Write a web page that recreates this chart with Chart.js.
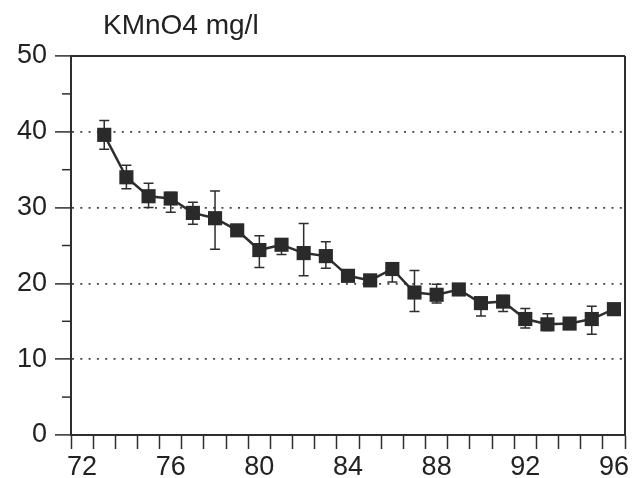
<!DOCTYPE html>
<html><head><meta charset="utf-8">
<script src="https://cdn.jsdelivr.net/npm/chart.js@4.4.1/dist/chart.umd.min.js"></script>
<style>html,body{margin:0;padding:0;background:#fff;} canvas{display:block;}</style>
</head><body>
<canvas id="c" width="635" height="478"></canvas>
<script>
const chartTitle = 'KMnO4 mg/l';
const axisYears = ['72','73','74','75','76','77','78','79','80','81','82','83','84','85','86','87','88','89','90','91','92','93','94','95','96'];
const xTickLabels = ['72','76','80','84','88','92','96'];
const yTickLabels = [0,10,20,30,40,50];
const years = ['73','74','75','76','77','78','79','80','81','82','83','84','85','86','87','88','89','90','91','92','93','94','95','96'];
const values = [39.6,34.0,31.5,31.2,29.3,28.6,27.0,24.4,25.1,24.0,23.6,21.0,20.4,21.9,18.8,18.5,19.2,17.4,17.6,15.3,14.6,14.7,15.3,16.6];
const errUp =   [1.9,1.6,1.7,0.8,1.4,3.6,0.5,1.9,0.6,3.9,1.9,0.5,0.5,0.6,2.9,1.4,0.5,0.6,0.8,1.4,1.4,0.5,1.7,0.5];
const errDown = [1.9,1.5,1.5,1.8,1.5,4.1,0.5,2.3,1.3,3.0,1.6,0.5,0.5,1.7,2.5,1.1,0.5,1.7,1.3,1.2,0.8,0.5,2.0,0.5];

Chart.defaults.font.family = '"Liberation Sans", Arial, sans-serif';
const ink = '#2e2e2e';

const extras = {
  id: 'extras',
  beforeDatasetsDraw(chart) {
    const ctx = chart.ctx, y = chart.scales.y;
    const meta = chart.getDatasetMeta(0);
    ctx.save();
    ctx.strokeStyle = ink; ctx.lineWidth = 1.5;
    meta.data.forEach((pt, i) => {
      const yt = y.getPixelForValue(values[i] + errUp[i]);
      const yb = y.getPixelForValue(values[i] - errDown[i]);
      ctx.beginPath();
      ctx.moveTo(pt.x, yt); ctx.lineTo(pt.x, yb);
      ctx.moveTo(pt.x - 5, yt); ctx.lineTo(pt.x + 5, yt);
      ctx.moveTo(pt.x - 5, yb); ctx.lineTo(pt.x + 5, yb);
      ctx.stroke();
    });
    ctx.restore();
  },
  afterDraw(chart) {
    const ctx = chart.ctx, y = chart.scales.y, ca = chart.chartArea;
    ctx.save();
    ctx.strokeStyle = ink; ctx.lineWidth = 2;
    ctx.beginPath();
    ctx.moveTo(ca.left, ca.top); ctx.lineTo(ca.right, ca.top);
    ctx.moveTo(ca.right, ca.top); ctx.lineTo(ca.right, ca.bottom);
    ctx.stroke();
    ctx.lineWidth = 1.5;
    [5,15,25,35,45].forEach(v => {
      const py = y.getPixelForValue(v);
      ctx.beginPath(); ctx.moveTo(ca.left - 9, py); ctx.lineTo(ca.left, py); ctx.stroke();
    });
    ctx.fillStyle = '#222';
    ctx.font = '28px "Liberation Sans", Arial, sans-serif';
    ctx.textBaseline = 'alphabetic';
    ctx.fillText(chartTitle, 103, 34);
    ctx.restore();
  }
};

new Chart(document.getElementById('c'), {
  type: 'line',
  data: {
    labels: axisYears,
    datasets: [{
      data: years.map((yr, i) => ({x: yr, y: values[i]})),
      borderColor: ink,
      borderWidth: 2.5,
      pointStyle: 'rect',
      pointRadius: 10,
      pointBackgroundColor: '#2a2a2a',
      pointBorderColor: '#2a2a2a',
      pointBorderWidth: 0,
      tension: 0
    }]
  },
  options: {
    responsive: false,
    animation: false,
    devicePixelRatio: 1,
    layout: { padding: { top: 56, right: 6, left: 0, bottom: 0 } },
    plugins: { legend: { display: false }, tooltip: { enabled: false }, title: { display: false } },
    scales: {
      x: {
        type: 'category',
        offset: true,
        grid: { offset: true, drawOnChartArea: false, drawTicks: true, tickLength: 14, tickColor: ink, tickWidth: 1.5 },
        border: { display: true, color: ink, width: 2 },
        ticks: {
          autoSkip: false, maxRotation: 0, minRotation: 0, padding: 2, color: '#222',
          font: { size: 27 },
          callback: function(val) { const l = this.getLabelForValue(val); return xTickLabels.includes(l) ? l : ''; }
        },
        afterFit(s) { s.height = 43; }
      },
      y: {
        min: 0, max: 50,
        grid: {
          color: c => (c.tick && c.tick.value > 0 && c.tick.value < 50 && c.tick.value % 10 === 0) ? '#444' : 'rgba(0,0,0,0)',
          lineWidth: 1.8,
          tickColor: c => (c.tick && c.tick.value % 10 === 0) ? ink : 'rgba(0,0,0,0)',
          tickLength: 16, tickWidth: 1.5
        },
        border: { display: true, color: ink, width: 2, dash: [2, 6.3] },
        ticks: {
          stepSize: 5, padding: 8, color: '#222', font: { size: 27 },
          callback: v => yTickLabels.includes(v) ? String(v) : ''
        },
        afterFit(s) { s.width = 71; }
      }
    }
  },
  plugins: [extras]
});
</script>
</body></html>
